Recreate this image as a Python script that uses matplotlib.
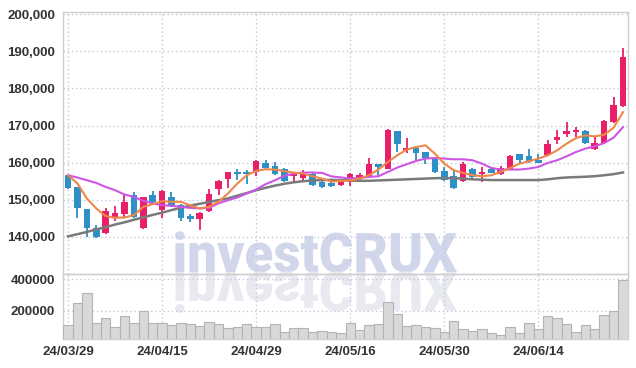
import matplotlib
matplotlib.use("Agg")
import matplotlib.pyplot as plt
import matplotlib.transforms as mtransforms
import numpy as np
from matplotlib.font_manager import FontProperties
from matplotlib.patches import PathPatch
from matplotlib.textpath import TextPath
from matplotlib.ticker import FuncFormatter

# trading days shown
dates = ["24/03/29", "24/04/01", "24/04/02", "24/04/03", "24/04/04", "24/04/05",
         "24/04/08", "24/04/09", "24/04/11", "24/04/12", "24/04/15", "24/04/16",
         "24/04/17", "24/04/18", "24/04/19", "24/04/22", "24/04/23", "24/04/24",
         "24/04/25", "24/04/26", "24/04/29", "24/04/30", "24/05/02", "24/05/03",
         "24/05/07", "24/05/08", "24/05/09", "24/05/10", "24/05/13", "24/05/14",
         "24/05/16", "24/05/17", "24/05/20", "24/05/21", "24/05/22", "24/05/23",
         "24/05/24", "24/05/27", "24/05/28", "24/05/29", "24/05/30", "24/05/31",
         "24/06/03", "24/06/04", "24/06/05", "24/06/07", "24/06/10", "24/06/11",
         "24/06/12", "24/06/13", "24/06/14", "24/06/17", "24/06/18", "24/06/19",
         "24/06/20", "24/06/21", "24/06/24", "24/06/25", "24/06/26", "24/06/27"]

opens = [156580, 153440, 147440, 142420, 140910, 145210, 146100, 151210, 142250, 151210,
         147180, 150750, 148520, 145560, 144760, 146990, 152820, 155590, 157480, 157480,
         157480, 160000, 159000, 158200, 156400, 155970, 157040, 154780, 154510, 153980,
         154780, 155860, 156400, 159540, 158380, 168410, 163300, 164030, 162770, 160890,
         157660, 156310, 155050, 158280, 156850, 158380, 156850, 158380, 162410, 161690,
         160800, 161960, 166180, 167680, 168220, 168410, 163650, 165280, 170910, 175210]
closes = [153180, 147780, 142420, 139800, 146910, 146450, 149410, 145380, 150580, 149250,
          152280, 148330, 145110, 144840, 146450, 151480, 154970, 157390, 156930, 156980,
          160350, 158550, 156850, 154970, 156930, 157200, 153980, 153440, 153630, 155050,
          156850, 156580, 159540, 158820, 168680, 165110, 164030, 162580, 161240, 157480,
          155240, 153170, 159540, 156000, 157390, 157310, 158550, 161690, 160620, 160160,
          160000, 165110, 166890, 168410, 168880, 165280, 165370, 171180, 175400, 188570]
highs = [156880, 153440, 147440, 143140, 147630, 148330, 151380, 152080, 150800, 152280,
         152600, 152080, 148700, 146100, 146700, 152820, 155200, 157500, 158380, 158120,
         160600, 160620, 160160, 158500, 157300, 157930, 157300, 155100, 154800, 155700,
         157200, 157200, 161340, 159540, 168950, 168410, 166720, 164030, 162770, 161200,
         158820, 157660, 160160, 158640, 158820, 158820, 159090, 161960, 162410, 163760,
         162410, 165990, 168870, 170910, 169640, 168700, 167180, 171400, 177630, 190910]
lows = [152780, 145180, 139980, 139600, 140640, 144300, 145380, 145100, 141980, 148900,
        145180, 148000, 144220, 144030, 141800, 146700, 151210, 153010, 155240, 154350,
        156310, 158200, 156580, 154700, 154620, 154780, 153700, 153200, 153300, 153630,
        153630, 155380, 156200, 156580, 158200, 162850, 162580, 160800, 159730, 157300,
        155000, 153000, 154800, 155800, 154780, 157100, 156580, 158200, 159730, 159900,
        159800, 161800, 165110, 166880, 166880, 165100, 163400, 165100, 170700, 175000]

ma5 = [156580, 154380, 150320, 147630, 145560, 145110, 145180, 145830, 148060, 148780,
       149580, 149410, 149410, 148430, 147630, 148060, 149410, 151660, 154350, 156580,
       157750, 158200, 158110, 157660, 157310, 157040, 156310, 155690, 154880, 155050,
       155180, 155700, 156580, 158120, 160160, 161960, 163490, 164190, 164650, 162410,
       159730, 157930, 157200, 156580, 156310, 156580, 157480, 158550, 159730, 160350,
       161070, 161960, 163300, 165110, 166610, 167340, 167070, 167520, 169410, 173600]
ma10 = [156580, 155970, 155240, 154510, 153440, 152550, 151380, 150750, 149680, 148980,
        148520, 148330, 148060, 147790, 147630, 147790, 148980, 149860, 150580, 151660,
        152740, 154160, 155240, 156400, 157040, 157310, 157310, 157220, 156280, 156000,
        155700, 155860, 156130, 156310, 157480, 158650, 159540, 160430, 161070, 161240,
        161070, 160890, 160890, 160620, 159730, 158550, 158120, 158120, 158120, 158380,
        158820, 159900, 160620, 161690, 162850, 163760, 164380, 165270, 166720, 169570]
ma_long = [140100, 140680, 141280, 141980, 142580, 143280, 143880, 144580, 145210, 145880,
           146480, 147180, 147780, 148380, 148880, 149380, 149880, 150320, 151080, 151780,
           152550, 153180, 153780, 154280, 154680, 154980, 155180, 155280, 155330, 155280,
           155180, 155080, 155080, 155180, 155280, 155380, 155480, 155580, 155680, 155780,
           155830, 155780, 155680, 155480, 155380, 155280, 155280, 155280, 155280, 155280,
           155280, 155480, 155780, 155980, 156080, 156180, 156330, 156580, 156880, 157330]

volumes = [110000, 247000, 310000, 120000, 152000, 95000, 167000, 120000, 198000, 120000,
           120000, 110000, 120000, 114000, 103000, 129000, 116000, 89000, 95000, 114000,
           95000, 95000, 114000, 66000, 89000, 89000, 66000, 72000, 66000, 59000,
           120000, 76000, 108000, 116000, 253000, 179000, 102000, 108000, 95000, 89000,
           66000, 133000, 83000, 70000, 83000, 59000, 45000, 95000, 59000, 120000,
           83000, 167000, 152000, 114000, 66000, 108000, 85000, 173000, 198000, 394000]

UP = "#e8206a"
DOWN = "#2e90c6"
GRID = "#c3c8dc"
SPINE = "#cfcfcf"
TXT = "#333333"

plt.rcParams["font.family"] = ["Liberation Sans Narrow", "Liberation Sans", "DejaVu Sans"]

fig = plt.figure(figsize=(6.36, 3.68), dpi=100)
ax = fig.add_axes([63.3 / 636, 1 - 274.3 / 368, 564.4 / 636, 262.6 / 368])
axv = fig.add_axes([63.3 / 636, 1 - 339.3 / 368, 564.4 / 636, 65.0 / 368], sharex=ax)

x = np.arange(len(dates))
o = np.array(opens)
c = np.array(closes)
colors = [UP if cc >= oo else DOWN for oo, cc in zip(o, c)]

# watermark behind everything (axes backgrounds are transparent)
for a in (ax, axv):
    a.patch.set_alpha(0)

fp = FontProperties(family=["Roboto", "DejaVu Sans"], weight=900)
tp = TextPath((0, 0), "investCRUX", prop=fp, size=10)
bb = tp.get_extents()
cap = TextPath((0, 0), "C", prop=fp, size=10).get_extents()
sx = 282.0 / bb.width
sy = 40.0 / cap.height
W, H = 636.0, 368.0
base_y = H - 272.0
left_x = 175.0
main = mtransforms.Affine2D().translate(-bb.x0, 0).scale(sx / W, sy / H) \
    .translate(left_x / W, base_y / H) + fig.transFigure
refl = mtransforms.Affine2D().translate(-bb.x0, 0).scale(sx / W, -sy / H) \
    .translate(left_x / W, base_y / H) + fig.transFigure
fig.add_artist(PathPatch(tp, transform=main, facecolor="#d1d6ea", edgecolor="none", zorder=-2))
fig.add_artist(PathPatch(tp, transform=refl, facecolor="#e9eaf0", edgecolor="none", zorder=-2))

# candles
ax.vlines(x, lows, highs, colors=colors, linewidth=1.3, zorder=3)
body = np.maximum(np.abs(c - o), 250)
ax.bar(x, body, bottom=np.minimum(o, c), width=0.7, color=colors, zorder=4)

# moving averages
ax.plot(x, ma_long, color="#7a7a7a", lw=1.8, zorder=5)
ax.plot(x, ma10, color="#cc55e6", lw=1.5, zorder=5)
ax.plot(x, ma5, color="#ef8748", lw=1.5, zorder=5)

ax.set_ylim(129860, 200700)
ax.set_yticks(np.arange(140000, 200001, 10000))
ax.yaxis.set_major_formatter(FuncFormatter(lambda v, p: f"{int(v):,}"))
ax.set_xlim(-0.5, len(dates) - 0.5)

# volume
axv.bar(x, volumes, width=1.0, color="#d9d9d9", edgecolor="#b4b4b4", linewidth=0.8, zorder=3)
axv.set_ylim(20000, 430000)
axv.set_yticks([200000, 400000])
axv.yaxis.set_major_formatter(FuncFormatter(lambda v, p: f"{int(v)}"))
axv.set_xticks(x[::10])
axv.set_xticklabels(dates[::10])

for a in (ax, axv):
    a.grid(True, color=GRID, linestyle=(0, (1, 2)), linewidth=1.0, zorder=1)
    a.set_axisbelow(True)
    for s in a.spines.values():
        s.set_color(SPINE)
        s.set_linewidth(1.0)
    a.tick_params(length=0, labelsize=9.5, colors=TXT, pad=6)
    for lab in a.get_yticklabels() + a.get_xticklabels():
        lab.set_fontweight("bold")
ax.tick_params(labelbottom=False)
axv.tick_params(axis="x", pad=5)

fig.savefig("out.png", dpi=100)
